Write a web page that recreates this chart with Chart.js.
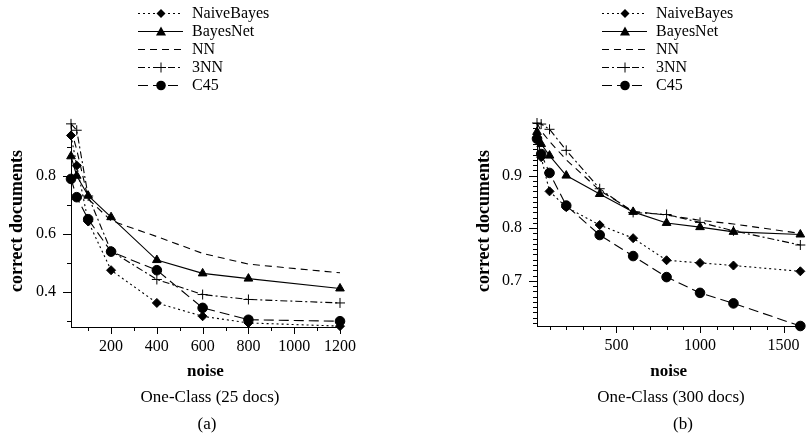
<!DOCTYPE html>
<html>
<head>
<meta charset="utf-8">
<script src="https://cdn.jsdelivr.net/npm/chart.js@4.4.1/dist/chart.umd.min.js"></script>
<style>
    html, body { margin: 0; padding: 0; background: #fff; }
    #wrap { position: relative; width: 810px; height: 446px; }
    canvas { position: absolute; top: 0; }
</style>
</head>
<body>
<div id="wrap">
    <canvas id="chartA" width="405" height="446" style="left:0"></canvas>
    <canvas id="chartB" width="405" height="446" style="left:405px"></canvas>
</div>
<script>
const seriesNames = ['NaiveBayes', 'BayesNet', 'NN', '3NN', 'C45'];

// (a) One-Class (25 docs)
const noiseA = [25, 50, 100, 200, 400, 600, 800, 1200];
const naiveA = [0.939, 0.835, 0.642, 0.474, 0.361, 0.315, 0.292, 0.281];
const bayesNetA = [0.867, 0.800, 0.731, 0.657, 0.509, 0.463, 0.445, 0.411];
const nnA = [0.960, 0.890, 0.720, 0.645, 0.590, 0.532, 0.495, 0.465];
const threeNnA = [0.979, 0.957, 0.730, 0.540, 0.442, 0.390, 0.373, 0.361];
const c45A = [0.789, 0.726, 0.650, 0.538, 0.474, 0.344, 0.303, 0.298];
const xLabelsA = [200, 400, 600, 800, 1000, 1200];
const yLabelsA = [0.4, 0.6, 0.8];

// (b) One-Class (300 docs)
const noiseB = [25, 50, 100, 200, 400, 600, 800, 1000, 1200, 1600];
const naiveB = [0.972, 0.935, 0.870, 0.840, 0.806, 0.781, 0.739, 0.734, 0.729, 0.718];
const bayesNetB = [0.983, 0.960, 0.938, 0.900, 0.865, 0.831, 0.810, 0.802, 0.793, 0.788];
const nnB = [1.000, 0.985, 0.965, 0.930, 0.872, 0.832, 0.825, 0.815, 0.808, 0.790];
const threeNnB = [1.000, 0.998, 0.988, 0.948, 0.875, 0.830, 0.826, 0.811, 0.795, 0.768];
const c45B = [0.970, 0.941, 0.905, 0.843, 0.787, 0.747, 0.707, 0.677, 0.657, 0.614];
const xLabelsB = [500, 1000, 1500];
const yLabelsB = [0.7, 0.8, 0.9];

const FONT = '"Liberation Serif", "Times New Roman", serif';

const seriesStyles = [
    {dash: [2, 3], point: 'rectRot', radius: 4.5},
    {dash: [], point: 'triangle', radius: 5},
    {dash: [7, 5], point: 'circle', radius: 0},
    {dash: [7, 3, 2, 3], point: 'cross', radius: 5},
    {dash: [10, 5], point: 'circle', radius: 4.8}
];

function drawMarker(ctx, style, x, y, r) {
    ctx.beginPath();
    if (style === 'rectRot') {
        ctx.moveTo(x, y - r); ctx.lineTo(x + r, y); ctx.lineTo(x, y + r); ctx.lineTo(x - r, y);
        ctx.closePath(); ctx.fill();
    } else if (style === 'triangle') {
        ctx.moveTo(x, y - r); ctx.lineTo(x + r, y + r * 0.8); ctx.lineTo(x - r, y + r * 0.8);
        ctx.closePath(); ctx.fill();
    } else if (style === 'cross') {
        ctx.moveTo(x - r, y); ctx.lineTo(x + r, y); ctx.moveTo(x, y - r); ctx.lineTo(x, y + r);
        ctx.stroke();
    } else {
        ctx.arc(x, y, r, 0, Math.PI * 2); ctx.fill();
    }
}

const isMajor = (v, list) => list.some(m => Math.abs(m - v) < 1e-6);

// axis tick marks, axis titles, captions and the legend
const paperPlugin = {
    id: 'paper',
    afterDraw(chart, args, o) {
        const ctx = chart.ctx;
        const xs = chart.scales.x;
        const ys = chart.scales.y;
        const area = chart.chartArea;
        ctx.save();
        ctx.strokeStyle = '#000';
        ctx.fillStyle = '#000';
        ctx.lineWidth = 1;
        ctx.setLineDash([]);

        ctx.beginPath();
        o.xTicks.forEach(v => {
            const px = Math.round(xs.getPixelForValue(v)) + 0.5;
            const len = isMajor(v, o.xMajor) ? 7 : 4;
            ctx.moveTo(px, area.bottom);
            ctx.lineTo(px, area.bottom + len);
        });
        o.yTicks.forEach(v => {
            const py = Math.round(ys.getPixelForValue(v)) + 0.5;
            const len = isMajor(v, o.yMajor) ? 8 : 4;
            ctx.moveTo(area.left, py);
            ctx.lineTo(area.left - len, py);
        });
        ctx.stroke();

        ctx.textAlign = 'center';
        ctx.textBaseline = 'middle';
        ctx.font = 'bold 17px ' + FONT;
        ctx.fillText('noise', (area.left + area.right) / 2, 372);
        ctx.save();
        ctx.translate(o.yTitleX, 221);
        ctx.rotate(-Math.PI / 2);
        ctx.font = 'bold 18px ' + FONT;
        ctx.fillText('correct documents', 0, 0);
        ctx.restore();

        ctx.font = '17px ' + FONT;
        ctx.fillText(o.caption, o.captionX, 398);
        ctx.fillText(o.tag, o.tagX, 425);

        ctx.font = '16px ' + FONT;
        ctx.textAlign = 'left';
        chart.data.datasets.forEach((ds, i) => {
            const y = 13 + i * 18;
            ctx.setLineDash(ds.borderDash);
            ctx.beginPath();
            ctx.moveTo(o.legendX, y + 0.5);
            ctx.lineTo(o.legendX + 45, y + 0.5);
            ctx.stroke();
            ctx.setLineDash([]);
            if (ds.pointRadius > 0) {
                drawMarker(ctx, ds.pointStyle, o.legendX + 23, y + 0.5, ds.pointRadius);
            }
            ctx.fillText(ds.label, o.legendX + 54, y + 1);
        });
        ctx.restore();
    }
};

function makeChart(id, noise, series, cfg) {
    const datasets = series.map((values, i) => ({
        label: seriesNames[i],
        data: noise.map((n, j) => ({x: n, y: values[j]})),
        borderColor: '#000',
        backgroundColor: '#000',
        borderWidth: 1.1,
        borderDash: seriesStyles[i].dash,
        pointStyle: seriesStyles[i].point,
        pointRadius: seriesStyles[i].radius,
        pointBorderWidth: 1,
        tension: 0,
        clip: false
    }));

    return new Chart(document.getElementById(id), {
        type: 'line',
        data: {datasets: datasets},
        options: {
            responsive: false,
            animation: false,
            events: [],
            layout: {padding: cfg.padding},
            plugins: {
                legend: {display: false},
                tooltip: {enabled: false},
                paper: cfg.paper
            },
            scales: {
                x: {
                    type: 'linear',
                    min: noise[0],
                    max: noise[noise.length - 1],
                    grid: {display: false, drawTicks: false},
                    border: {display: true, color: '#000', width: 1},
                    ticks: {
                        color: '#000', font: {family: FONT, size: 16}, padding: 10,
                        maxRotation: 0, autoSkip: false, callback: v => String(v)
                    },
                    afterBuildTicks: s => { s.ticks = cfg.xLabels.map(v => ({value: v})); },
                    afterFit: s => { s.height = cfg.xHeight; }
                },
                y: {
                    type: 'linear',
                    min: cfg.yMin,
                    max: cfg.yMax,
                    grid: {display: false, drawTicks: false},
                    border: {display: true, color: '#000', width: 1},
                    ticks: {color: '#000', font: {family: FONT, size: 16}, padding: 15, callback: v => v.toFixed(1)},
                    afterBuildTicks: s => { s.ticks = cfg.yLabels.map(v => ({value: v})); },
                    afterFit: s => { s.width = 50; }
                }
            }
        },
        plugins: [paperPlugin]
    });
}

const xTicksA = [];
for (let k = 1; k <= 12; k++) xTicksA.push(k * 100);
const yTicksA = [0.3, 0.4, 0.5, 0.6, 0.7, 0.8, 0.9];

const xTicksB = [];
for (let k = 1; k <= 16; k++) xTicksB.push(k * 100);
const yTicksB = [];
for (let k = 62; k <= 100; k++) yTicksB.push(k / 100);

makeChart('chartA', noiseA, [naiveA, bayesNetA, nnA, threeNnA, c45A], {
    padding: {left: 21, right: 65, top: 123, bottom: 0},
    xHeight: 119,
    yMin: 0.278, yMax: 0.982,
    xLabels: xLabelsA, yLabels: yLabelsA,
    paper: {
        xTicks: xTicksA, xMajor: xLabelsA, yTicks: yTicksA, yMajor: yLabelsA,
        yTitleX: 17, legendX: 138,
        caption: 'One-Class (25 docs)', captionX: 210, tag: '(a)', tagX: 207
    }
});

makeChart('chartB', noiseB, [naiveB, bayesNetB, nnB, threeNnB, c45B], {
    padding: {left: 82, right: 5, top: 123, bottom: 0},
    xHeight: 120,
    yMin: 0.614, yMax: 1.0,
    xLabels: xLabelsB, yLabels: yLabelsB,
    paper: {
        xTicks: xTicksB, xMajor: xLabelsB, yTicks: yTicksB, yMajor: yLabelsB,
        yTitleX: 79, legendX: 197,
        caption: 'One-Class (300 docs)', captionX: 266, tag: '(b)', tagX: 278
    }
});
</script>
</body>
</html>
